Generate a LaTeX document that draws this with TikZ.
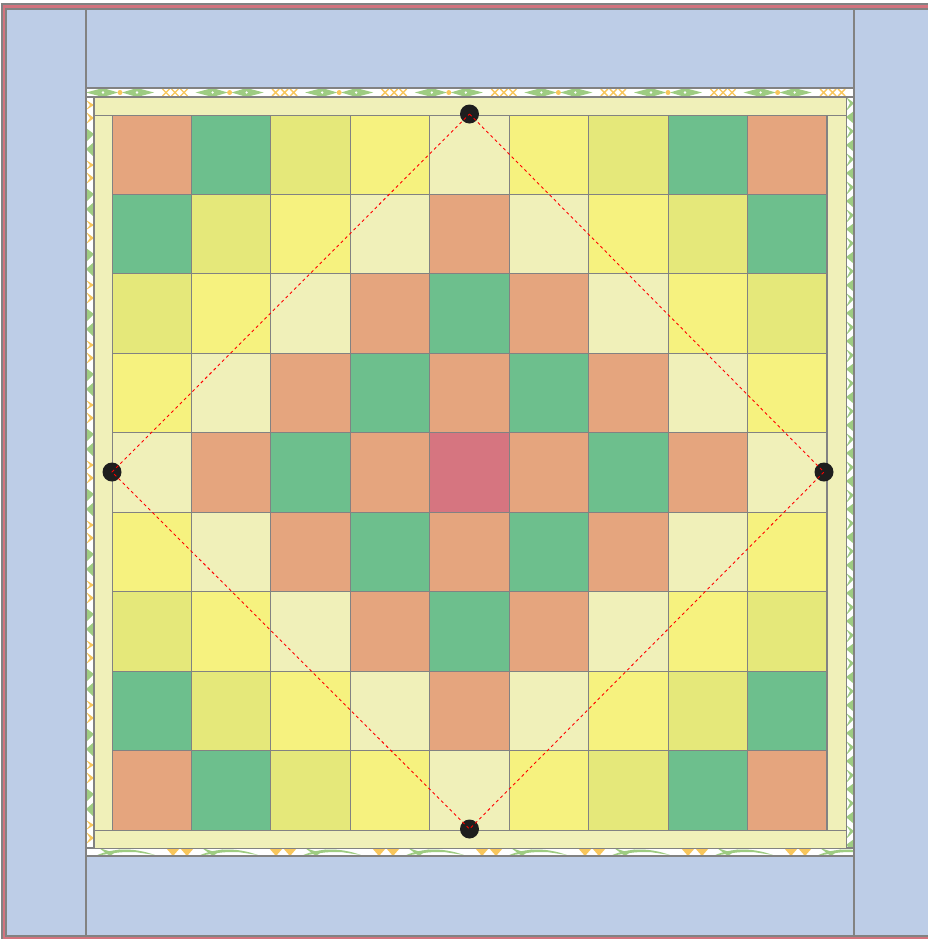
\documentclass[tikz,border=0pt]{standalone}
\definecolor{qblue}{HTML}{BDCDE7}
\definecolor{qbind}{HTML}{D3737E}
\definecolor{q0}{HTML}{D67580}
\definecolor{q1}{HTML}{E5A57E}
\definecolor{q2}{HTML}{6DBF8D}
\definecolor{q3}{HTML}{E5A57E}
\definecolor{q4}{HTML}{F0F0B9}
\definecolor{q5}{HTML}{F6F27F}
\definecolor{q6}{HTML}{E5E87A}
\definecolor{q7}{HTML}{6DBF8D}
\definecolor{q8}{HTML}{E5A57E}
\definecolor{qpale}{HTML}{F0F0B9}
\definecolor{qline}{HTML}{828282}
\definecolor{leafg}{HTML}{9ECC82}
\definecolor{flowy}{HTML}{F8C65C}
\definecolor{dotc}{HTML}{1E1E1E}
\begin{document}
\begin{tikzpicture}[x=0.5pt,y=-0.5pt,
  piece/.style={draw=qline,line width=0.75pt},
  cell/.style={draw=qline,line width=0.5pt},
  dotnode/.style={circle,fill=dotc,draw=none,minimum size=9.5pt,inner sep=0pt},
  diag/.style={draw=red,line width=0.45pt,dash pattern=on 1.5pt off 1.5pt},
  lf/.style={fill=leafg},
  fy/.style={fill=flowy}]
\useasboundingbox (0,0) rectangle (928,939);
% binding
\path[piece,fill=qbind] (2,4) rectangle (940,950);
\path[piece,fill=qblue] (6,9) rectangle (934,936);
% blue borders
\path[piece,fill=qblue] (6,9) rectangle (86,936);
\path[piece,fill=qblue] (86,9) rectangle (854,88);
\path[piece,fill=qblue] (854,9) rectangle (934,936);
\path[piece,fill=qblue] (86,856) rectangle (854,936);
% printed strips
\fill[white] (86,88) rectangle (854,856);
\begin{scope}
\clip (86,88) rectangle (854,97);
\foreach \x in {120,229.6,...,900}{
  \fill[lf] (\x-34,92.5) -- (\x-17,88) -- (\x-2,92.5) -- (\x-17,97) -- cycle;
  \fill[lf] (\x+34,92.5) -- (\x+17,88) -- (\x+2,92.5) -- (\x+17,97) -- cycle;
  \fill[white] (\x-17,92.5) circle (1.3) (\x+17,92.5) circle (1.3);
  \fill[fy] (\x,92.5) circle (2.5);
  \foreach \d in {46,55,64}{
    \draw[flowy,line width=0.7pt] (\x+\d-3.5,89) -- (\x+\d+3.5,96) (\x+\d-3.5,96) -- (\x+\d+3.5,89);}
}
\end{scope}
\begin{scope}
\clip (86,97) rectangle (94,848);
\foreach \y in {100,160,...,860}{
  \fill[fy] (86,\y) -- (94,\y+5) -- (86,\y+10) -- (90,\y+5) -- cycle;
  \fill[fy] (86,\y+12) -- (94,\y+18) -- (86,\y+24) -- (90,\y+18) -- cycle;
  \fill[lf] (86,\y+28) -- (94,\y+34) -- (86,\y+42) -- cycle;
  \fill[lf] (94,\y+42) -- (86,\y+49) -- (94,\y+57) -- cycle;
}
\end{scope}
\begin{scope}
\clip (846,97) rectangle (854,848);
\foreach \y in {97,125,...,860}{
  \fill[lf] (846,\y) -- (854,\y+6) -- (846,\y+14) -- (850,\y+6) -- cycle;
  \fill[lf] (854,\y+14) -- (846,\y+20) -- (854,\y+27) -- cycle;
}
\end{scope}
\begin{scope}
\clip (86,848) rectangle (854,856);
\foreach \x in {95,198,...,900}{
  \fill[lf] (\x,856) .. controls (\x+20,847) and (\x+40,848) .. (\x+60,855) -- (\x+40,852) .. controls (\x+25,852) .. (\x,856);
  \fill[lf] (\x+4,848) -- (\x+15,856) -- (\x+26,848) -- (\x+20,853) -- cycle;
  \fill[fy] (\x+71,848) -- (\x+78,856) -- (\x+85,848) -- cycle;
  \fill[fy] (\x+85,848) -- (\x+92,856) -- (\x+99,848) -- cycle;
}
\end{scope}
\path[piece] (86,88) rectangle (854,97);
\path[piece] (86,97) rectangle (94,848);
\path[piece] (846,97) rectangle (854,848);
\path[piece] (86,848) rectangle (854,856);
% inner frame
\path[cell,fill=qpale] (94,97) rectangle (846,115);
\path[cell,fill=qpale] (94,830) rectangle (846,848);
\path[cell,fill=qpale] (94,115) rectangle (112,830);
\path[cell,fill=qpale] (827,115) rectangle (846,830);
% grid
\foreach \r in {0,...,8}{
  \foreach \c in {0,...,8}{
    \pgfmathtruncatemacro\d{abs(\r-4)+abs(\c-4)}
    \path[cell,fill=q\d] (112+\c*79.444,115+\r*79.444) rectangle ++(79.444,79.444);
  }
}
% dots and diamond
\node[dotnode] (top) at (469.5,114) {};
\node[dotnode] (left) at (112,472) {};
\node[dotnode] (right) at (824,472) {};
\node[dotnode] (bottom) at (469.5,829) {};
\draw[diag] (top.center) -- (right.center) -- (bottom.center) -- (left.center) -- (top.center);
\end{tikzpicture}
\end{document}
